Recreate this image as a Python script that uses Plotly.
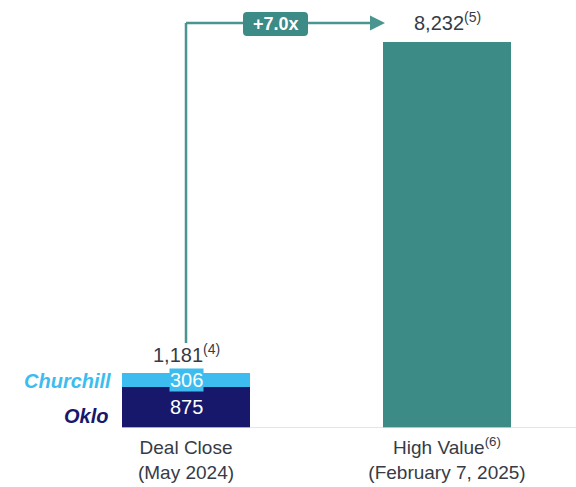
import plotly.graph_objects as go

categories = ["Deal Close<br>(May 2024)", "High Value<sup>(6)</sup><br>(February 7, 2025)"]
oklo = [875, None]
churchill = [306, None]
high_value = [None, 8232]
totals = [1181, 8232]
total_labels = ["1,181<sup>(4)</sup>", "8,232<sup>(5)</sup>"]
multiple_label = "+7.0x"

TEAL = "#3c8b86"
ARROW = "#4a958f"
NAVY = "#17186b"
LIGHT = "#3dbdef"
TXT = "#363b46"
FONT = "Liberation Sans"

W, H = 576, 487
base_px = 428
px_per_unit = (428 - 42) / 8232.0
ymax = base_px / px_per_unit
step = 261.0
xc0 = 186.0
xmin = -xc0 / step
xmax = (W - xc0) / step
bw = 128.5 / step

def xd(px):
    return (px - xc0) / step

def yd(py):
    return (base_px - py) / px_per_unit

x = [0, 1]
fig = go.Figure()
fig.add_bar(x=x, y=oklo, marker=dict(color=NAVY, line=dict(width=0)), width=bw, showlegend=False)
fig.add_bar(x=x, y=churchill, marker=dict(color=LIGHT, line=dict(width=0)), width=bw, showlegend=False)
fig.add_bar(x=x, y=high_value, marker=dict(color=TEAL, line=dict(width=0)), width=bw, showlegend=False)

# segment labels
fig.add_annotation(x=0, y=oklo[0] / 2, text=str(oklo[0]), showarrow=False,
                   font=dict(color="white", size=20, family=FONT))
fig.add_annotation(x=0, y=oklo[0] + churchill[0] / 2, text=str(churchill[0]), showarrow=False,
                   font=dict(color="white", size=20, family=FONT),
                   bgcolor=LIGHT, borderpad=0)
# totals
fig.add_annotation(x=0, y=totals[0], yshift=19, text=total_labels[0], showarrow=False,
                   font=dict(color=TXT, size=20, family=FONT))
fig.add_annotation(x=1, y=totals[1], yshift=21, text=total_labels[1], showarrow=False,
                   font=dict(color=TXT, size=20, family=FONT))
# series labels
fig.add_annotation(xref="paper", x=113 / W, xanchor="right", y=yd(381),
                   text="<b><i>Churchill</i></b>", showarrow=False,
                   font=dict(color=LIGHT, size=20, family=FONT))
fig.add_annotation(xref="paper", x=110 / W, xanchor="right", y=yd(416),
                   text="<b><i>Oklo</i></b>", showarrow=False,
                   font=dict(color=NAVY, size=20, family=FONT))

# connector arrow
y_top = yd(23)
y_bot = yd(343)
fig.add_shape(type="line", x0=0, x1=0, y0=y_bot, y1=y_top, line=dict(color=ARROW, width=2.5))
fig.add_shape(type="line", x0=0, x1=xd(376), y0=y_top, y1=y_top, line=dict(color=ARROW, width=2.5))
fig.add_annotation(x=xd(385), y=y_top, ax=xd(370), ay=y_top,
                   xref="x", yref="y", axref="x", ayref="y", text="", showarrow=True,
                   arrowhead=2, arrowsize=1.2, arrowwidth=2.5, arrowcolor=ARROW)

# badge (rounded rectangle)
bx0, bx1, by0, by1, r = 243, 308, 12, 36, 4
path = (f"M {xd(bx0 + r)} {yd(by0)} L {xd(bx1 - r)} {yd(by0)} Q {xd(bx1)} {yd(by0)} {xd(bx1)} {yd(by0 + r)} "
        f"L {xd(bx1)} {yd(by1 - r)} Q {xd(bx1)} {yd(by1)} {xd(bx1 - r)} {yd(by1)} "
        f"L {xd(bx0 + r)} {yd(by1)} Q {xd(bx0)} {yd(by1)} {xd(bx0)} {yd(by1 - r)} "
        f"L {xd(bx0)} {yd(by0 + r)} Q {xd(bx0)} {yd(by0)} {xd(bx0 + r)} {yd(by0)} Z")
fig.add_shape(type="path", path=path, fillcolor=TEAL, line=dict(width=0), layer="above")
fig.add_annotation(x=xd((bx0 + bx1) / 2), y=yd((by0 + by1) / 2), text="<b>" + multiple_label + "</b>",
                   showarrow=False, font=dict(color="white", size=18, family=FONT))

# baseline
fig.add_shape(type="line", x0=xd(122), x1=xmax, y0=0, y1=0, line=dict(color="#dcdcdc", width=1.5))

fig.update_layout(
    width=W, height=H, barmode="stack", bargap=0,
    margin=dict(l=0, r=0, t=0, b=H - base_px),
    plot_bgcolor="white", paper_bgcolor="white",
    xaxis=dict(range=[xmin, xmax], tickvals=x, ticktext=categories, showgrid=False,
               zeroline=False, showline=False, ticks="", ticklabelstandoff=6,
               tickfont=dict(color=TXT, size=19, family=FONT)),
    yaxis=dict(range=[0, ymax], visible=False, showgrid=False, zeroline=False),
)
fig.write_html("out.html", config={"displayModeBar": False},
               post_script="document.body.style.margin='0';")
